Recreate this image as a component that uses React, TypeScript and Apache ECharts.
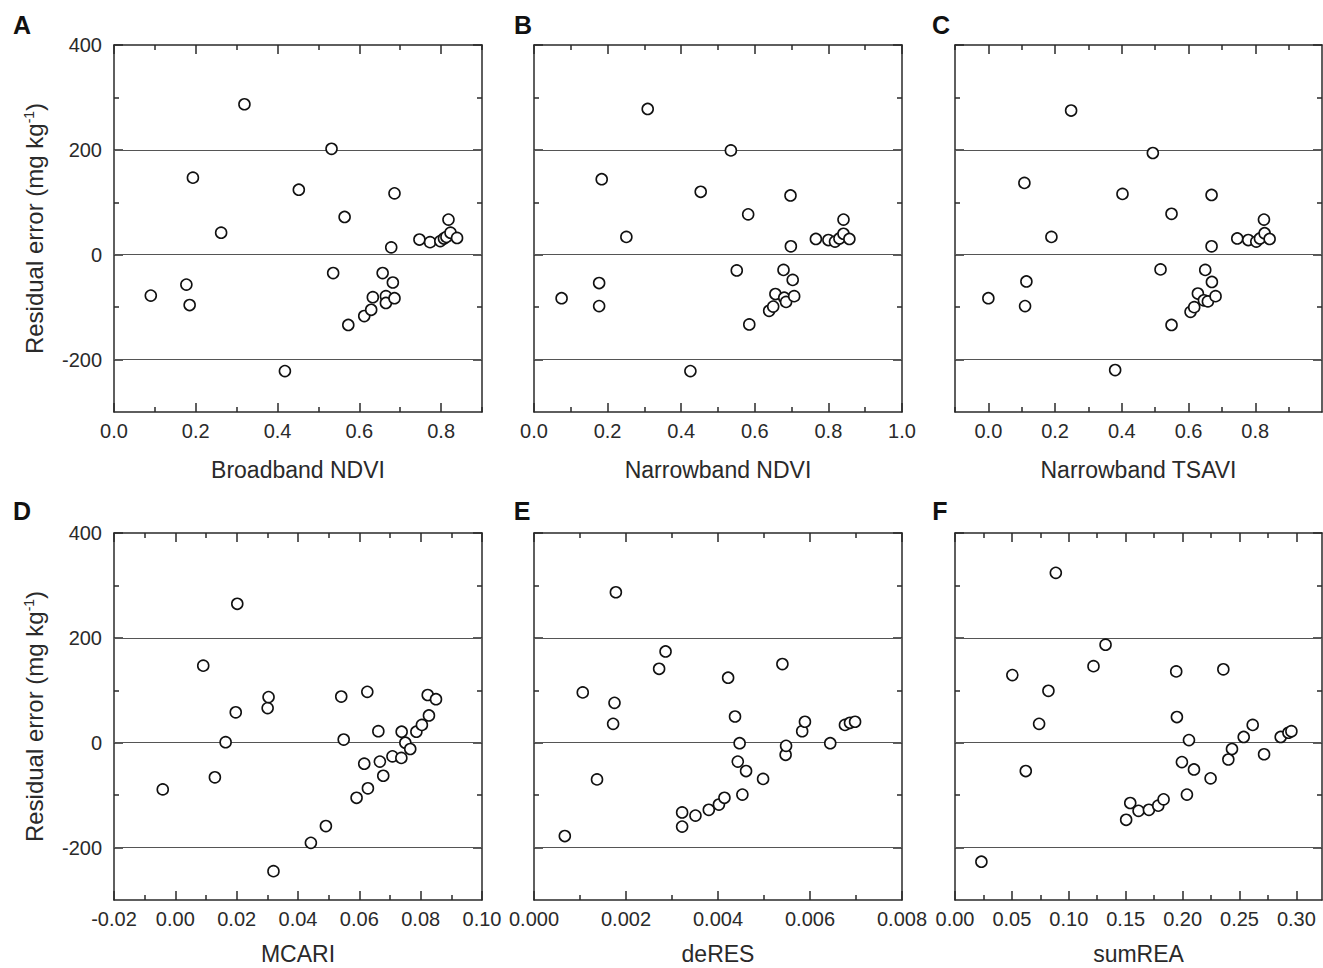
import React, { useEffect, useRef } from "react";
import * as echarts from "echarts";

// ---------- data ----------
const aX = [0.090, 0.177, 0.185, 0.193, 0.262, 0.319, 0.418, 0.452, 0.532, 0.536, 0.564, 0.573, 0.612, 0.629, 0.633, 0.657, 0.665, 0.665, 0.678, 0.682, 0.686, 0.686, 0.747, 0.773, 0.798, 0.807, 0.813, 0.818, 0.823, 0.839];
const aY = [-78, -57, -96, 147, 42, 287, -222, 124, 202, -35, 72, -134, -117, -105, -81, -35, -79, -92, 14, -53, 117, -83, 29, 24, 26, 31, 34, 67, 42, 32];

const bX = [0.075, 0.177, 0.177, 0.184, 0.251, 0.309, 0.425, 0.453, 0.535, 0.551, 0.582, 0.585, 0.639, 0.650, 0.656, 0.678, 0.680, 0.685, 0.697, 0.698, 0.703, 0.707, 0.766, 0.800, 0.818, 0.830, 0.841, 0.841, 0.857];
const bY = [-83, -54, -98, 144, 34, 278, -222, 120, 199, -30, 77, -133, -107, -99, -75, -29, -82, -90, 113, 16, -48, -79, 30, 28, 25, 31, 67, 40, 30];

const cX = [0.0, 0.108, 0.114, 0.110, 0.189, 0.248, 0.380, 0.402, 0.493, 0.516, 0.549, 0.549, 0.606, 0.617, 0.628, 0.650, 0.646, 0.658, 0.669, 0.669, 0.670, 0.681, 0.746, 0.779, 0.803, 0.814, 0.826, 0.828, 0.843];
const cY = [-83, 137, -51, -98, 34, 275, -220, 116, 194, -28, 78, -134, -109, -100, -74, -29, -87, -89, 16, 114, -52, -79, 31, 28, 25, 31, 67, 41, 30];

const dX = [-0.0041, 0.0091, 0.0129, 0.0164, 0.0197, 0.0202, 0.0301, 0.0304, 0.0320, 0.0442, 0.0491, 0.0541, 0.0549, 0.0591, 0.0616, 0.0626, 0.0628, 0.0662, 0.0667, 0.0678, 0.0708, 0.0737, 0.0738, 0.0750, 0.0766, 0.0786, 0.0804, 0.0823, 0.0827, 0.0850];
const dY = [-89, 147, -66, 1, 58, 265, 66, 87, -245, -191, -159, 88, 6, -105, -40, 97, -87, 22, -36, -63, -26, -29, 21, 0, -12, 21, 34, 91, 52, 83];

const eX = [0.00067, 0.00106, 0.00137, 0.00175, 0.00172, 0.00178, 0.00272, 0.00286, 0.00322, 0.00322, 0.00351, 0.00380, 0.00402, 0.00414, 0.00422, 0.00437, 0.00443, 0.00447, 0.00453, 0.00461, 0.00498, 0.00540, 0.00547, 0.00548, 0.00583, 0.00589, 0.00644, 0.00676, 0.00687, 0.00698];
const eY = [-178, 96, -70, 76, 36, 287, 141, 174, -133, -160, -139, -128, -118, -105, 124, 50, -36, -1, -99, -54, -69, 150, -23, -6, 22, 40, -1, 34, 38, 40];

const fX = [0.0232, 0.0504, 0.0622, 0.0739, 0.0821, 0.0886, 0.1217, 0.1323, 0.1504, 0.1540, 0.1613, 0.1704, 0.1786, 0.1833, 0.1944, 0.1950, 0.1994, 0.2038, 0.2056, 0.2100, 0.2246, 0.2358, 0.2402, 0.2434, 0.2537, 0.2616, 0.2716, 0.2862, 0.2930, 0.2956];
const fY = [-227, 129, -54, 36, 99, 324, 146, 187, -147, -115, -130, -128, -120, -108, 136, 49, -37, -99, 5, -51, -68, 140, -32, -12, 11, 34, -22, 11, 19, 22];

// tick values
const ndviMajor = [0, 0.2, 0.4, 0.6, 0.8];
const ndviMinor = [0.1, 0.3, 0.5, 0.7, 0.9];
const bMajor = [0, 0.2, 0.4, 0.6, 0.8, 1.0];
const cMinor = [-0.1, 0.1, 0.3, 0.5, 0.7, 0.9];
const dMajor = [-0.02, 0, 0.02, 0.04, 0.06, 0.08, 0.1];
const dMinor = [-0.01, 0.01, 0.03, 0.05, 0.07, 0.09];
const eMajor = [0, 0.002, 0.004, 0.006, 0.008];
const eMinor = [0.001, 0.003, 0.005, 0.007];
const fMajor = [0, 0.05, 0.1, 0.15, 0.2, 0.25, 0.3];
const fMinor = [0.025, 0.075, 0.125, 0.175, 0.225, 0.275];
const yMajor = [400, 200, 0, -200];
const yMinor = [300, 100, -100];
const refLines = [-200, 0, 200];

const xNames = ["Broadband NDVI", "Narrowband NDVI", "Narrowband TSAVI", "MCARI", "deRES", "sumREA"];
const letters = ["A", "B", "C", "D", "E", "F"];

const FONT = "'Liberation Sans', Arial, Helvetica, sans-serif";
const INK = "#2a2a2a";

const panels = [
  { xs: aX, ys: aY, min: 0, max: 0.9, major: ndviMajor, minor: ndviMinor, dec: 1, left: 114, top: 45, width: 368, showY: true, lx: 22, ly: 25, gap: 46 },
  { xs: bX, ys: bY, min: 0, max: 1.0, major: bMajor, minor: ndviMinor, dec: 1, left: 534, top: 45, width: 368, showY: false, lx: 523, ly: 25, gap: 46 },
  { xs: cX, ys: cY, min: -0.1, max: 1.0, major: ndviMajor, minor: cMinor, dec: 1, left: 955, top: 45, width: 367, showY: false, lx: 941, ly: 25, gap: 46 },
  { xs: dX, ys: dY, min: -0.02, max: 0.1, major: dMajor, minor: dMinor, dec: 2, left: 114, top: 533, width: 368, showY: true, lx: 22, ly: 511, gap: 42 },
  { xs: eX, ys: eY, min: 0, max: 0.008, major: eMajor, minor: eMinor, dec: 3, left: 534, top: 533, width: 368, showY: false, lx: 522, ly: 511, gap: 42 },
  { xs: fX, ys: fY, min: 0, max: 0.3225, major: fMajor, minor: fMinor, dec: 2, left: 955, top: 533, width: 367, showY: false, lx: 940, ly: 511, gap: 42 },
];

function buildOption() {
  const grid: any[] = [];
  const xAxis: any[] = [];
  const yAxis: any[] = [];
  const series: any[] = [];
  const graphic: any[] = [];

  panels.forEach((p, i) => {
    grid.push({ left: p.left, top: p.top, width: p.width, height: 367, containLabel: false, outerBoundsMode: "none" });

    const xBase = {
      gridIndex: i, type: "value", min: p.min, max: p.max,
      splitLine: { show: false },
    };
    const tickStyle = { color: INK, width: 1.5 };
    xAxis.push({
      ...xBase, position: "bottom",
      axisLine: { show: true, onZero: false, lineStyle: { color: INK, width: 1.5 } },
      axisTick: { show: true, inside: true, length: 9, lineStyle: tickStyle, customValues: p.major },
      axisLabel: {
        show: true, customValues: p.major, margin: 9,
        formatter: (v: number) => Number(v).toFixed(p.dec),
        fontSize: 20, color: INK, fontFamily: FONT,
      },
      name: xNames[i], nameLocation: "middle", nameGap: p.gap,
      nameTextStyle: { fontSize: 23, color: INK, fontFamily: FONT },
    });
    xAxis.push({
      ...xBase, position: "bottom",
      axisLine: { show: false, onZero: false },
      axisTick: { show: true, inside: true, length: 5, lineStyle: tickStyle, customValues: p.minor },
      axisLabel: { show: false },
    });
    xAxis.push({
      ...xBase, position: "top",
      axisLine: { show: true, onZero: false, lineStyle: { color: INK, width: 1.5 } },
      axisTick: { show: true, inside: true, length: 9, lineStyle: tickStyle, customValues: p.major },
      axisLabel: { show: false },
    });
    xAxis.push({
      ...xBase, position: "top",
      axisLine: { show: false, onZero: false },
      axisTick: { show: true, inside: true, length: 5, lineStyle: tickStyle, customValues: p.minor },
      axisLabel: { show: false },
    });

    const yBase = { gridIndex: i, type: "value", min: -300, max: 400, splitLine: { show: false } };
    yAxis.push({
      ...yBase, position: "left",
      axisLine: { show: true, onZero: false, lineStyle: { color: INK, width: 1.5 } },
      axisTick: { show: true, inside: true, length: 9, lineStyle: tickStyle, customValues: yMajor },
      axisLabel: p.showY
        ? { show: true, customValues: yMajor, margin: 12, formatter: (v: number) => String(v), fontSize: 20, color: INK, fontFamily: FONT }
        : { show: false },
      ...(p.showY
        ? {
            name: "Residual error (mg kg{sup|-1})",
            nameLocation: "middle", nameGap: 68,
            nameTextStyle: {
              fontSize: 24, color: INK, fontFamily: FONT,
              rich: { sup: { fontSize: 14, color: INK, fontFamily: FONT, verticalAlign: "top", padding: [0, 0, 10, 0] } },
            },
          }
        : {}),
    });
    yAxis.push({
      ...yBase, position: "left",
      axisLine: { show: false, onZero: false },
      axisTick: { show: true, inside: true, length: 5, lineStyle: tickStyle, customValues: yMinor },
      axisLabel: { show: false },
    });
    yAxis.push({
      ...yBase, position: "right",
      axisLine: { show: true, onZero: false, lineStyle: { color: INK, width: 1.5 } },
      axisTick: { show: true, inside: true, length: 9, lineStyle: tickStyle, customValues: yMajor },
      axisLabel: { show: false },
    });
    yAxis.push({
      ...yBase, position: "right",
      axisLine: { show: false, onZero: false },
      axisTick: { show: true, inside: true, length: 5, lineStyle: tickStyle, customValues: yMinor },
      axisLabel: { show: false },
    });

    series.push({
      type: "scatter",
      xAxisIndex: i * 4,
      yAxisIndex: i * 4,
      data: p.xs.map((x, k) => [x, p.ys[k]]),
      symbol: "circle",
      symbolSize: 11,
      itemStyle: { color: "#ffffff", borderColor: "#111111", borderWidth: 1.6, opacity: 1 },
      z: 5,
      markLine: {
        silent: true,
        symbol: "none",
        label: { show: false },
        lineStyle: { type: "solid", color: "#555555", width: 1 },
        data: refLines.map((v) => ({ yAxis: v })),
        z: 2,
      },
    });

    graphic.push({
      type: "text",
      x: p.lx,
      y: p.ly,
      style: {
        text: letters[i],
        fontSize: 25,
        fontWeight: "bold",
        fontFamily: FONT,
        fill: "#111",
        align: "center",
        verticalAlign: "middle",
      },
    });
  });

  return {
    animation: false,
    backgroundColor: "#ffffff",
    grid,
    xAxis,
    yAxis,
    series,
    graphic,
  };
}

export default function App() {
  const ref = useRef<HTMLDivElement>(null);
  useEffect(() => {
    if (!ref.current) return;
    const chart = echarts.init(ref.current, null, { renderer: "svg" });
    chart.setOption(buildOption() as any);
    return () => chart.dispose();
  }, []);
  return (
    <div
      ref={ref}
      style={{ position: "absolute", left: 0, top: 0, width: 1323, height: 968, background: "#fff" }}
    />
  );
}
